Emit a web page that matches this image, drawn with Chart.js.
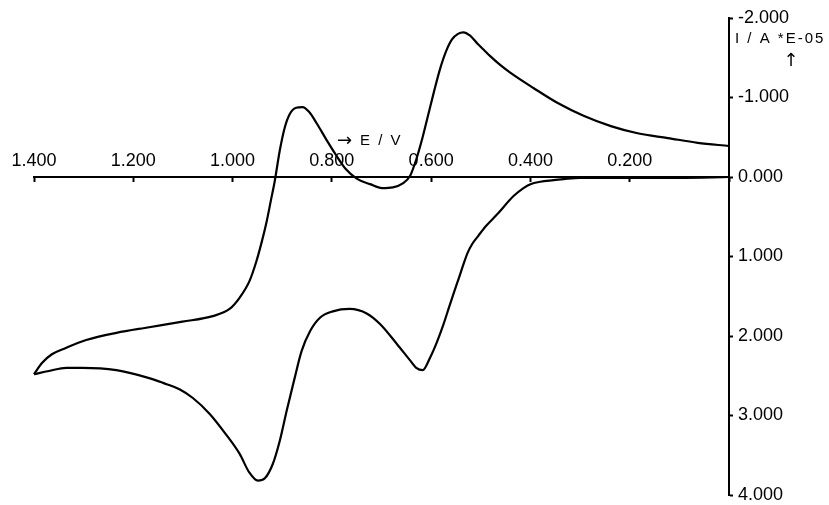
<!DOCTYPE html>
<html>
<head>
<meta charset="utf-8">
<script src="https://cdn.jsdelivr.net/npm/chart.js@4"></script>
<style>
  html, body { margin:0; padding:0; background:#fff; }
  #wrap { width:829px; height:505px; }
</style>
</head>
<body>
<div id="wrap"><canvas id="cv" width="829" height="505"></canvas></div>
<script>
// potential E / V and current I / A *1E-05
const lowerE = [0, 0.10, 0.20, 0.30, 0.326, 0.353, 0.380, 0.400, 0.414, 0.434, 0.467, 0.490, 0.505, 0.517, 0.527, 0.535, 0.544, 0.554, 0.564, 0.575, 0.588, 0.602, 0.617, 0.630, 0.642, 0.669, 0.703, 0.729, 0.764, 0.798, 0.824, 0.844, 0.861, 0.875, 0.891, 0.905, 0.919, 0.935, 0.949, 0.966, 0.986, 1.013, 1.046, 1.080, 1.107, 1.140, 1.168, 1.234, 1.303, 1.335, 1.370, 1.400];
const lowerI = [0, 0.01, 0.01, 0.01, 0.02, 0.04, 0.06, 0.09, 0.14, 0.24, 0.47, 0.62, 0.74, 0.84, 0.96, 1.10, 1.27, 1.45, 1.64, 1.85, 2.07, 2.27, 2.43, 2.40, 2.31, 2.10, 1.85, 1.72, 1.66, 1.69, 1.77, 1.94, 2.19, 2.53, 2.94, 3.32, 3.61, 3.79, 3.82, 3.72, 3.48, 3.24, 2.98, 2.78, 2.67, 2.59, 2.53, 2.43, 2.40, 2.40, 2.44, 2.48];

const upperE = [1.400, 1.384, 1.364, 1.336, 1.295, 1.234, 1.168, 1.101, 1.040, 1.006, 0.986, 0.966, 0.952, 0.941, 0.931, 0.923, 0.915, 0.905, 0.895, 0.885, 0.872, 0.859, 0.846, 0.830, 0.812, 0.792, 0.772, 0.750, 0.723, 0.699, 0.677, 0.657, 0.642, 0.630, 0.618, 0.606, 0.594, 0.582, 0.570, 0.558, 0.546, 0.535, 0.522, 0.507, 0.494, 0.481, 0.461, 0.440, 0.394, 0.345, 0.293, 0.238, 0.184, 0.123, 0.063, 0];
const upperI = [2.48, 2.34, 2.23, 2.15, 2.05, 1.96, 1.89, 1.82, 1.75, 1.66, 1.52, 1.31, 1.06, 0.81, 0.55, 0.30, 0.05, -0.33, -0.62, -0.79, -0.87, -0.88, -0.82, -0.67, -0.48, -0.28, -0.10, 0.02, 0.09, 0.14, 0.13, 0.08, -0.02, -0.22, -0.48, -0.78, -1.08, -1.36, -1.58, -1.73, -1.80, -1.82, -1.78, -1.68, -1.60, -1.52, -1.41, -1.31, -1.12, -0.93, -0.77, -0.64, -0.55, -0.49, -0.43, -0.39];

const xTicks = [1.4, 1.2, 1.0, 0.8, 0.6, 0.4, 0.2, 0.0];
const yTicks = [-2, -1, 0, 1, 2, 3, 4];

const FONT = '"Liberation Sans", Arial, sans-serif';
const ARROW_FONT = '"DejaVu Sans", sans-serif';

function el(id){ return document.getElementById(id); }

function pts(es, is){ return es.map((e,i) => ({ x:e, y:is[i] })); }

function fixedTicks(list){
  return (scale) => { scale.ticks = list.map(v => ({ value:v })); };
}

// the small texts next to the axes
const axisText = {
  id: 'axisText',
  afterDraw(chart){
    const { ctx } = chart;
    const xs = chart.scales.x, ys = chart.scales.y;
    const ax = xs.getPixelForValue(0);
    ctx.save();
    ctx.fillStyle = '#000';
    ctx.textBaseline = 'middle';
    ctx.textAlign = 'left';
    ctx.font = '15px ' + FONT;
    ctx.letterSpacing = '2px';
    ctx.fillText('I / A *E-05', ax + 6, ys.getPixelForValue(-1.74));
    ctx.fillText('E / V', 360, ys.getPixelForValue(-0.45));
    ctx.letterSpacing = '0px';
    ctx.font = '18px ' + ARROW_FONT;
    ctx.textAlign = 'center';
    ctx.fillText('\u2191', ax + 62, ys.getPixelForValue(-1.46));
    ctx.textAlign = 'left';
    ctx.fillText('\u2192', 337, ys.getPixelForValue(-0.45));
    ctx.restore();
  }
};

const line = { borderColor:'#000', borderWidth:2.2, pointRadius:0, cubicInterpolationMode:'monotone', showLine:true, fill:false, clip:6 };

new Chart(el('cv'), {
  type: 'scatter',
  data: {
    datasets: [
      Object.assign({ data: pts(lowerE, lowerI) }, line),
      Object.assign({ data: pts(upperE, upperI) }, line)
    ]
  },
  options: {
    responsive: false,
    animation: false,
    layout: { padding: { left:34, top:18, right:0, bottom:10 } },
    plugins: { legend:{ display:false }, tooltip:{ enabled:false } },
    scales: {
      x: {
        type: 'linear',
        min: 0, max: 1.4,
        reverse: true,
        position: { y: 0 },
        afterBuildTicks: fixedTicks(xTicks),
        grid: { drawOnChartArea:false, drawTicks:true, tickLength:4, tickColor:'#000', tickWidth:2 },
        border: { display:true, color:'#000', width:2 },
        ticks: {
          color:'#000',
          padding:-31,
          maxRotation:0,
          font:{ family:FONT, size:18 },
          callback: v => Math.abs(v) < 1e-9 ? '' : v.toFixed(3)
        }
      },
      y: {
        type: 'linear',
        min: -2, max: 4,
        reverse: true,
        position: 'right',
        afterBuildTicks: fixedTicks(yTicks),
        afterFit: (s) => { s.width = 100; s.paddingTop = 8; s.paddingBottom = 8; },
        grid: { drawOnChartArea:false, drawTicks:true, tickLength:4, tickColor:'#000', tickWidth:2 },
        border: { display:true, color:'#000', width:2 },
        ticks: {
          color:'#000',
          padding:5,
          font:{ family:FONT, size:18 },
          callback: v => v.toFixed(3)
        }
      }
    }
  },
  plugins: [axisText]
});
</script>
</body>
</html>
